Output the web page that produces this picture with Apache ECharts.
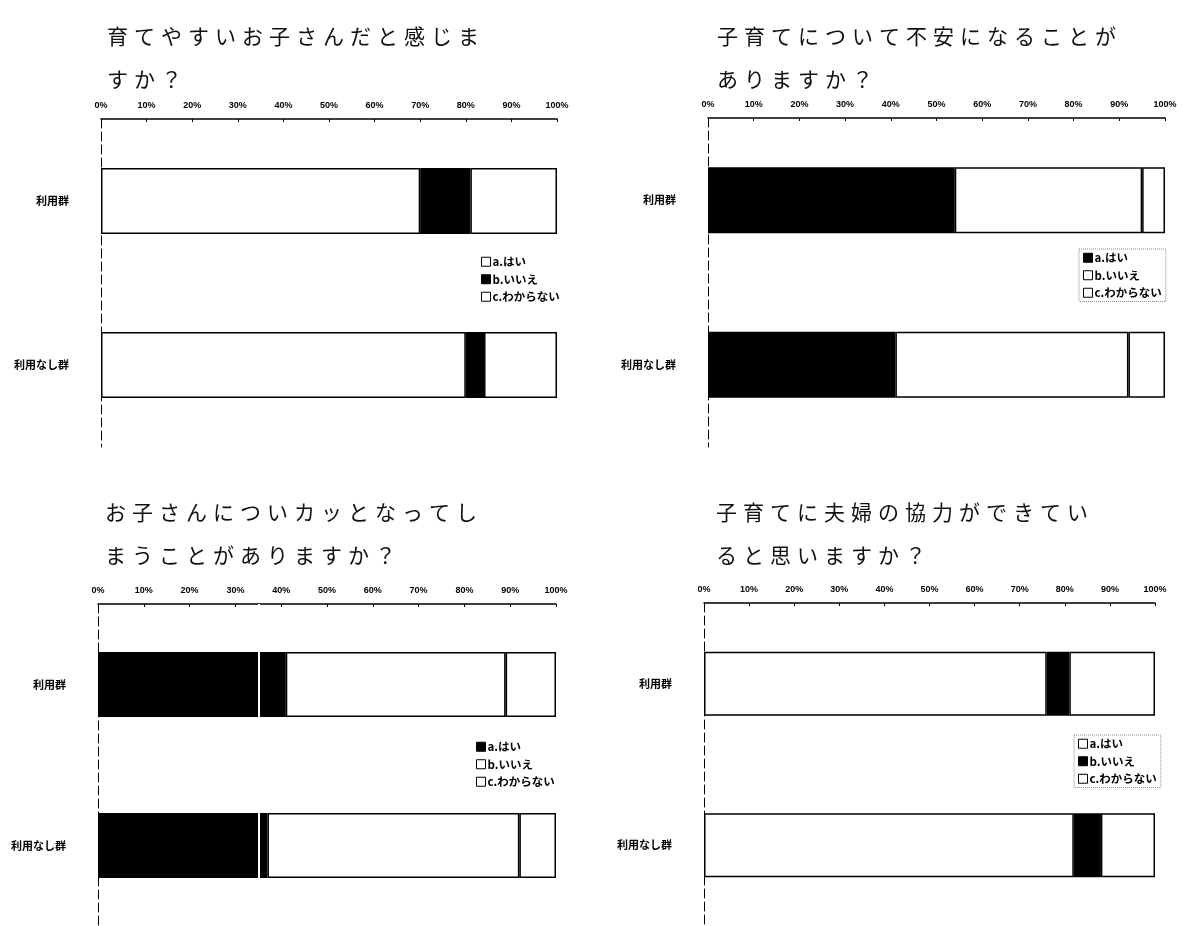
<!DOCTYPE html>
<html>
<head>
<meta charset="utf-8">
<script src="https://cdn.jsdelivr.net/npm/echarts@6/dist/echarts.min.js"></script>
<style>
html,body{margin:0;padding:0;background:#fff;overflow:hidden;width:1191px;height:926px}
.c{position:absolute;width:595px;height:463px}
</style>
</head>
<body>
<div id="q1" class="c" style="left:0;top:0"></div>
<div id="q2" class="c" style="left:595px;top:0"></div>
<div id="q3" class="c" style="left:0;top:463px"></div>
<div id="q4" class="c" style="left:595px;top:463px"></div>
<script>
// data
var categories = ['利用群', '利用なし群'];
var seriesNames = ['a.はい', 'b.いいえ', 'c.わからない'];

var title1 = '育てやすいお子さんだと感じま\nすか？';
var title2 = '子育てについて不安になることが\nありますか？';
var title3 = 'お子さんについカッとなってし\nまうことがありますか？';
var title4 = '子育てに夫婦の協力ができてい\nると思いますか？';

var q1A = [70, 80], q1B = [11, 4], q1C = [19, 16];
var q2A = [54, 41], q2B = [41, 51], q2C = [5, 8];
var q3A = [41, 37], q3B = [48, 55], q3C = [11, 8];
var q4A = [76, 82], q4B = [5, 6], q4C = [19, 12];

var q3Mark = 35; // white line seen inside the black bars

var FONT = '"Noto Sans CJK JP", sans-serif';

// wide letter spacing like the printed titles
function spaced(str){
	return str.split('').map(function(ch){
		return ch === '\n' ? '\n' : '{c|' + ch + '}';
	}).join('');
}

function makeOption(cfg){
	var vals = [cfg.a, cfg.b, cfg.c];
	var series = seriesNames.map(function(name, i){
		var s = {
			name: name,
			type: 'bar',
			stack: 'total',
			barWidth: cfg.barWidth,
			data: vals[i],
			itemStyle: {color: cfg.colors[i], borderColor: '#000', borderWidth: 1.5},
			emphasis: {disabled: true}
		};
		if (i === 0 && cfg.mark != null) {
			s.markLine = {
				silent: true,
				symbol: 'none',
				label: {show: false},
				lineStyle: {color: '#fff', width: 2, type: 'solid'},
				data: [{xAxis: cfg.mark}]
			};
		}
		return s;
	});
	return {
		backgroundColor: '#fff',
		animation: false,
		title: {
			text: spaced(cfg.title),
			left: cfg.titleLeft,
			top: cfg.titleTop,
			padding: 0,
			textStyle: {
				rich: {
					c: {fontSize: 21, fontFamily: FONT, fontWeight: 'normal', color: '#111',
						padding: [0, 3, 0, 3], lineHeight: 43}
				}
			}
		},
		legend: {
			orient: 'vertical',
			left: cfg.legendLeft,
			top: cfg.legendTop,
			itemWidth: 9,
			itemHeight: 9,
			itemGap: 6,
			icon: 'rect',
			padding: [3, 4],
			borderColor: cfg.legendBorder ? '#888' : 'transparent',
			borderWidth: cfg.legendBorder ? 1 : 0,
			borderType: 'dotted',
			selectedMode: false,
			itemStyle: {borderColor: '#000', borderWidth: 1},
			textStyle: {fontSize: 11.5, fontWeight: 'bold', fontFamily: FONT, color: '#000', padding: [0, 0, 0, -3]},
			data: seriesNames
		},
		grid: {left: cfg.left, width: cfg.width, top: cfg.top, height: cfg.height},
		xAxis: {
			type: 'value',
			position: 'top',
			min: 0,
			max: 100,
			interval: 10,
			axisLine: {show: true, lineStyle: {color: '#000', width: 1.5}},
			axisTick: {show: true, inside: true, length: 3, lineStyle: {color: '#000'}},
			splitLine: {show: false},
			axisLabel: {formatter: '{value}%', fontSize: 9, fontWeight: 'bold',
				fontFamily: '"Liberation Sans", Arial, sans-serif', color: '#000', margin: 9}
		},
		yAxis: {
			type: 'category',
			inverse: true,
			data: categories,
			axisLine: {show: true, lineStyle: {color: '#000', width: 1, type: [9, 4]}},
			axisTick: {show: false},
			axisLabel: {fontSize: 11, fontWeight: 'bold', fontFamily: FONT, color: '#000', margin: 32}
		},
		series: series
	};
}

var WB = ['#fff', '#000', '#fff'];
var BW = ['#000', '#fff', '#fff'];

var c1 = echarts.init(document.getElementById('q1'));
var c2 = echarts.init(document.getElementById('q2'));
var c3 = echarts.init(document.getElementById('q3'));
var c4 = echarts.init(document.getElementById('q4'));

c1.setOption(makeOption({
	title: title1, titleLeft: 104, titleTop: 15,
	a: q1A, b: q1B, c: q1C, colors: WB,
	left: 101, width: 456, top: 119, height: 328, barWidth: 66,
	legendLeft: 477, legendTop: 253, legendBorder: false
}));
c2.setOption(makeOption({
	title: title2, titleLeft: 119, titleTop: 15,
	a: q2A, b: q2B, c: q2C, colors: BW,
	left: 113, width: 457, top: 118, height: 329, barWidth: 66,
	legendLeft: 484, legendTop: 249, legendBorder: true
}));
c3.setOption(makeOption({
	title: title3, titleLeft: 102, titleTop: 28,
	a: q3A, b: q3B, c: q3C, colors: BW, mark: q3Mark,
	left: 98, width: 458, top: 141, height: 330, barWidth: 65,
	legendLeft: 472, legendTop: 275, legendBorder: false
}));
c4.setOption(makeOption({
	title: title4, titleLeft: 118, titleTop: 28,
	a: q4A, b: q4B, c: q4C, colors: WB,
	left: 109, width: 451, top: 140, height: 328, barWidth: 64,
	legendLeft: 479, legendTop: 272, legendBorder: true
}));
</script>
</body>
</html>
